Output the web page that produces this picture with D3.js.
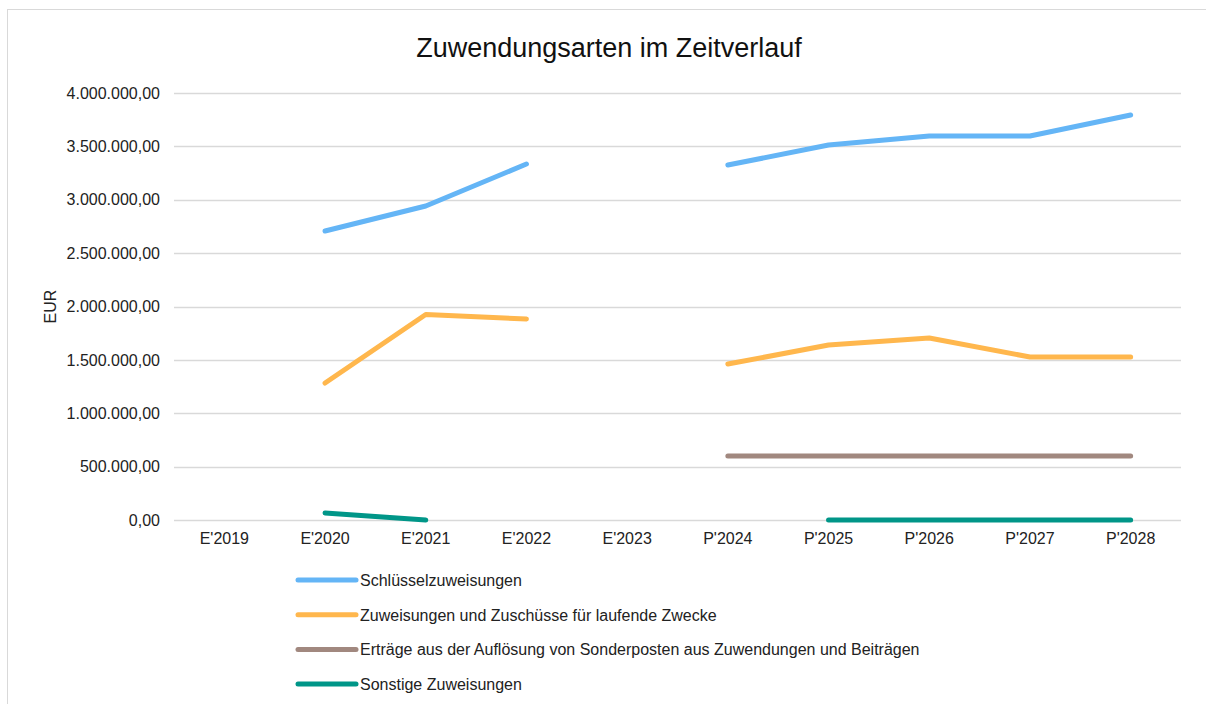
<!DOCTYPE html>
<html>
<head>
<meta charset="utf-8">
<script src="https://cdn.jsdelivr.net/npm/d3@7"></script>
<style>
    body { margin: 0; background: #fff; }
    svg { font-family: "Liberation Sans", Arial, sans-serif; }
</style>
</head>
<body>
<div id="chart"></div>
<script>
var categories = ["E'2019", "E'2020", "E'2021", "E'2022", "E'2023", "P'2024", "P'2025", "P'2026", "P'2027", "P'2028"];
var yTicks = [0, 500000, 1000000, 1500000, 2000000, 2500000, 3000000, 3500000, 4000000];

var schluessel = [null, 2707000, 2941000, 3335000, null, 3325000, 3513000, 3597000, 3597000, 3794000];
var laufende = [null, 1283000, 1925000, 1883000, null, 1461000, 1639000, 1705000, 1527000, 1527000];
var ertraege = [null, null, null, null, null, 600000, 600000, 600000, 600000, 600000];
var sonstige = [null, 66000, 0, null, null, null, 0, 0, 0, 0];

var seriesNames = [
    "Schlüsselzuweisungen",
    "Zuweisungen und Zuschüsse für laufende Zwecke",
    "Erträge aus der Auflösung von Sonderposten aus Zuwendungen und Beiträgen",
    "Sonstige Zuweisungen"
];
var seriesColors = ["#64b5f6", "#ffb74d", "#a1887f", "#009688"];
var series = [schluessel, laufende, ertraege, sonstige];

var width = 1206, height = 704;
var margin = {left: 174, right: 25, top: 93, bottom: 184};
var labelSize = 16;

var svg = d3.select("#chart").append("svg")
    .attr("width", width)
    .attr("height", height);

// chart border
svg.append("rect")
    .attr("x", 7.5).attr("y", 9.5)
    .attr("width", width).attr("height", height)
    .attr("fill", "none")
    .attr("stroke", "#d9d9d9")
    .attr("stroke-width", 1);

var x = d3.scaleBand()
    .domain(categories)
    .range([margin.left, width - margin.right]);

var y = d3.scaleLinear()
    .domain([0, 4000000])
    .range([height - margin.bottom, margin.top]);

var fmt = function (v) {
    return d3.format(",.2f")(v).replace(/,/g, "#").replace(".", ",").replace(/#/g, ".");
};

// gridlines
svg.append("g")
    .selectAll("line")
    .data(yTicks)
    .enter().append("line")
    .attr("x1", margin.left)
    .attr("x2", width - margin.right)
    .attr("y1", function (d) { return Math.round(y(d)) + 0.5; })
    .attr("y2", function (d) { return Math.round(y(d)) + 0.5; })
    .attr("stroke", "#d9d9d9")
    .attr("stroke-width", 1.3);

// y axis labels
var yAxis = d3.axisLeft(y).tickValues(yTicks).tickFormat(fmt).tickSize(0).tickPadding(14);
svg.append("g")
    .attr("transform", "translate(" + margin.left + ",0)")
    .call(yAxis)
    .call(function (g) { g.select(".domain").remove(); })
    .selectAll("text")
    .attr("font-size", labelSize)
    .attr("font-family", "Liberation Sans, Arial, sans-serif")
    .attr("fill", "#222");

// x axis labels
var xAxis = d3.axisBottom(x).tickSize(0).tickPadding(13);
svg.append("g")
    .attr("transform", "translate(0," + (height - margin.bottom) + ")")
    .call(xAxis)
    .call(function (g) { g.select(".domain").remove(); })
    .selectAll("text")
    .attr("font-size", labelSize)
    .attr("font-family", "Liberation Sans, Arial, sans-serif")
    .attr("fill", "#222");

// lines
var line = d3.line()
    .defined(function (d) { return d != null; })
    .x(function (d, i) { return x(categories[i]) + x.bandwidth() / 2; })
    .y(function (d) { return y(d); });

svg.append("g")
    .selectAll("path")
    .data(series)
    .enter().append("path")
    .attr("d", line)
    .attr("fill", "none")
    .attr("stroke", function (d, i) { return seriesColors[i]; })
    .attr("stroke-width", 5)
    .attr("stroke-linecap", "round")
    .attr("stroke-linejoin", "round");

// title
svg.append("text")
    .attr("x", 609)
    .attr("y", 57)
    .attr("text-anchor", "middle")
    .attr("font-size", 27)
    .attr("fill", "#111")
    .text("Zuwendungsarten im Zeitverlauf");

// y axis title
svg.append("text")
    .attr("transform", "translate(56," + ((margin.top + height - margin.bottom) / 2) + ") rotate(-90)")
    .attr("text-anchor", "middle")
    .attr("font-size", labelSize)
    .attr("fill", "#222")
    .text("EUR");

// legend
var legend = svg.append("g")
    .attr("transform", "translate(298,580)");

var items = legend.selectAll("g")
    .data(seriesNames)
    .enter().append("g")
    .attr("transform", function (d, i) { return "translate(0," + (i * 34.7) + ")"; });

items.append("line")
    .attr("x1", 0).attr("x2", 58)
    .attr("y1", 0).attr("y2", 0)
    .attr("stroke", function (d, i) { return seriesColors[i]; })
    .attr("stroke-width", 5)
    .attr("stroke-linecap", "round");

items.append("text")
    .attr("x", 62)
    .attr("y", 6)
    .attr("font-size", labelSize)
    .attr("fill", "#222")
    .text(function (d) { return d; });
</script>
</body>
</html>
